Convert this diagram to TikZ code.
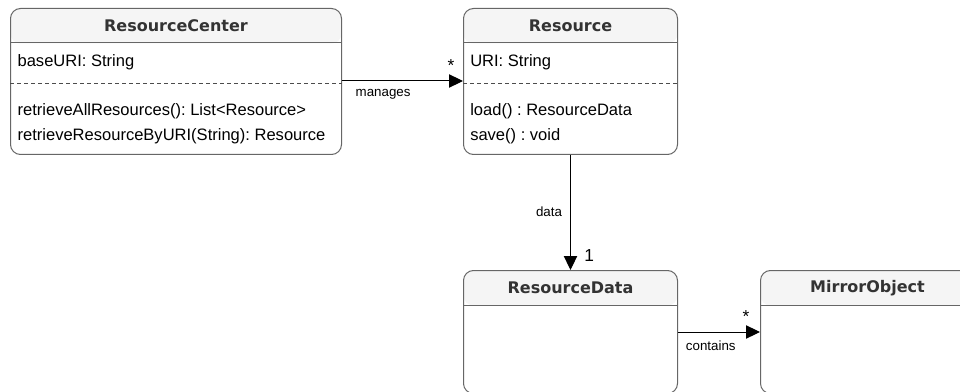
\documentclass[tikz,border=0pt]{standalone}
\usepackage{fontspec}
\setmainfont{Liberation Sans}
\newfontfamily\headfont{DejaVu Sans}
\usetikzlibrary{arrows.meta,positioning}
\frenchspacing
\definecolor{boxedge}{HTML}{666666}
\definecolor{headfill}{HTML}{F5F5F5}
\definecolor{headtext}{HTML}{333333}
\tikzset{
  classbox/.style={draw=boxedge, line width=0.75pt, rounded corners=7.5pt, fill=white,
    anchor=north west, inner sep=0pt, minimum width=160.5pt, minimum height=109.5pt,
    path picture={\fill[headfill] (path picture bounding box.north west)
      rectangle ([yshift=-26.25pt]path picture bounding box.north east);}},
  classname/.style={font=\headfont\bfseries\fontsize{12pt}{14pt}\selectfont, text=headtext, inner sep=0pt},
  member/.style={anchor=west, inner sep=0pt, font=\fontsize{12.4pt}{14pt}\selectfont},
  headline/.style={draw=boxedge, line width=0.75pt},
  sepline/.style={draw=black!70, line width=0.75pt, dash pattern=on 3pt off 2.25pt},
  assoc/.style={-{Triangle[length=10.5pt,width=10pt]}, line width=0.75pt},
  rolelabel/.style={font=\fontsize{10pt}{12pt}\selectfont, inner sep=1pt},
  multlabel/.style={font=\fontsize{13pt}{14pt}\selectfont, inner sep=1pt}
}
\begin{document}
\begin{tikzpicture}[x=0.75pt,y=-0.75pt]
  \useasboundingbox (0,0) rectangle (960,392);
  \clip (0,0) rectangle (960,392);
  % classes
  \node[classbox, minimum width=248.25pt] (center) at (10,8) {};
  \node[classbox] (res) at (463,8) {};
  \node[classbox, minimum height=92.25pt] (rdata) at (463,270) {};
  \node[classbox, minimum height=92.25pt] (mirror) at (760,270) {};
  \foreach \c in {center,res,rdata,mirror}
    \draw[headline] ([yshift=-26.25pt]\c.north west) -- ([yshift=-26.25pt]\c.north east);
  \node[classname] (centername) at ([yshift=-13.5pt]center.north) {ResourceCenter};
  \node[classname] (resname) at ([yshift=-13.5pt]res.north) {Resource};
  \node[classname] (rdataname) at ([yshift=-13.5pt]rdata.north) {ResourceData};
  \node[classname] (mirrorname) at ([yshift=-13.5pt]mirror.north) {MirrorObject};
  % members
  \node[member] (baseuri) at ([xshift=5.5pt,yshift=-40.5pt]center.north west) {baseURI: String};
  \draw[sepline] ([yshift=-57pt]center.north west) -- ([yshift=-57pt]center.north east);
  \node[member] (getall) at ([xshift=5.5pt,yshift=-77.25pt]center.north west) {retrieveAllResources(): List<Resource>};
  \node[member] (getone) at ([xshift=5.5pt,yshift=-96pt]center.north west) {retrieveResourceByURI(String): Resource};
  \node[member] (uri) at ([xshift=5.25pt,yshift=-40.5pt]res.north west) {URI: String};
  \draw[sepline] ([yshift=-57pt]res.north west) -- ([yshift=-57pt]res.north east);
  \node[member] (load) at ([xshift=5.25pt,yshift=-77.25pt]res.north west) {load() : ResourceData};
  \node[member] (save) at ([xshift=5.25pt,yshift=-96pt]res.north west) {save() : void};
  % associations
  \draw[assoc] ([yshift=-54.75pt]center.north east) -- ([yshift=-54.75pt]res.north west)
    node[rolelabel, pos=0.34, below=5pt] {manages}
    node[multlabel, pos=0.9, above=6pt] {*};
  \draw[assoc] (res.south) -- (rdata.north)
    node[rolelabel, pos=0.49, left=5pt] {data}
    node[multlabel, pos=0.87, right=9pt] {1};
  \draw[assoc] ([yshift=-46.5pt]rdata.north east) -- ([yshift=-46.5pt]mirror.north west)
    node[rolelabel, pos=0.4, below=5pt] {contains}
    node[multlabel, pos=0.83, above=6pt] {*};
\end{tikzpicture}
\end{document}
